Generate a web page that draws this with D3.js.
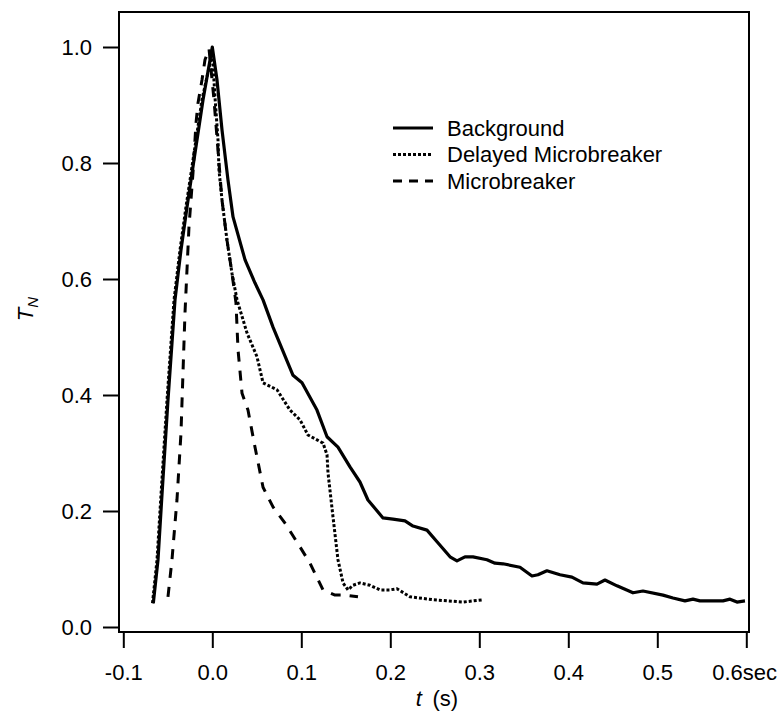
<!DOCTYPE html>
<html>
<head>
<meta charset="utf-8">
<script src="https://cdn.jsdelivr.net/npm/d3@7"></script>
<style>
  body { margin: 0; background: #fff; }
  svg { display: block; }
  text { font-family: "Liberation Sans", Arial, Helvetica, sans-serif; fill: #000; }
</style>
</head>
<body>
<svg id="chart" width="780" height="713"></svg>
<script>
// Background (solid)
var bgT = [-0.0663,-0.0610,-0.0569,-0.0498,-0.0419,-0.0352,-0.0284,-0.0206,-0.0104,0.0,
  0.0053,0.0109,0.0176,0.0233,0.0368,0.0480,0.0570,0.0682,0.0907,0.1008,0.1176,0.1289,0.1412,
  0.1547,0.1659,0.1749,0.1918,0.2030,0.2165,0.2255,0.2412,0.2525,0.2671,0.2749,0.2839,0.2929,
  0.3086,0.3176,0.3266,0.3457,0.3592,0.3659,0.3760,0.3907,0.4041,0.4165,0.4322,0.4412,0.4547,
  0.4727,0.4839,0.5064,0.5176,0.5311,0.5401,0.5479,0.5738,0.5817,0.5895,0.5985];
var bgY = [0.041,0.116,0.219,0.391,0.564,0.650,0.724,0.805,0.909,1.0,
  0.943,0.857,0.771,0.707,0.633,0.593,0.564,0.517,0.434,0.421,0.374,0.328,0.310,
  0.276,0.250,0.219,0.188,0.186,0.183,0.174,0.167,0.147,0.121,0.114,0.121,0.121,
  0.116,0.110,0.109,0.103,0.088,0.090,0.097,0.090,0.086,0.076,0.074,0.081,0.071,
  0.059,0.062,0.055,0.050,0.045,0.048,0.045,0.045,0.048,0.043,0.045];

// Delayed Microbreaker (dotted)
var dmT = [-0.0672,-0.0621,-0.0580,-0.0509,-0.0430,-0.0363,-0.0296,-0.0217,-0.0116,0.0,
  0.0030,0.0064,0.0075,0.0109,0.0165,0.0221,0.0278,0.0390,0.0502,0.0570,0.0727,0.0873,0.0986,
  0.1075,0.1244,0.1289,0.1300,0.1356,0.1412,0.1469,0.1525,0.1581,0.1659,0.1772,0.1884,0.1997,
  0.2075,0.2221,0.2480,0.2817,0.3042];
var dmY = [0.041,0.116,0.219,0.391,0.564,0.650,0.724,0.805,0.909,0.99,
  0.914,0.840,0.788,0.736,0.667,0.610,0.564,0.507,0.466,0.421,0.409,0.374,0.357,
  0.331,0.317,0.297,0.266,0.190,0.116,0.076,0.064,0.072,0.076,0.072,0.064,0.064,
  0.066,0.052,0.047,0.043,0.047];

// Microbreaker (dashed)
var mbT = [-0.0498,-0.0453,-0.0397,-0.0352,-0.0307,-0.0262,-0.0217,-0.0183,-0.0161,-0.0116,-0.0082,-0.0037,
  0.0019,0.0064,0.0109,0.0165,0.0221,0.0266,0.0289,0.0334,0.0401,0.0480,0.0570,0.0682,0.0817,
  0.0986,0.1098,0.1244,0.1379,0.1491,0.1637];
var mbY = [0.052,0.116,0.219,0.334,0.541,0.690,0.783,0.869,0.903,0.943,0.978,0.997,
  0.909,0.822,0.736,0.667,0.610,0.559,0.478,0.403,0.374,0.310,0.241,0.207,0.179,
  0.138,0.110,0.064,0.055,0.055,0.052];

var seriesNames = ["Background", "Delayed Microbreaker", "Microbreaker"];
var seriesDash = ["none", "3,2", "10,9"];
var xTicks = [-0.1, 0.0, 0.1, 0.2, 0.3, 0.4, 0.5, 0.6];
var yTicks = [0.0, 0.2, 0.4, 0.6, 0.8, 1.0];

var svg = d3.select("#chart");
var box = { left: 119, top: 12, right: 749, bottom: 632 };

var x = d3.scaleLinear().domain([-0.1, 0.6]).range([123.3, 746.3]);
var y = d3.scaleLinear().domain([0, 1]).range([627, 47]);

// frame
svg.append("rect")
  .attr("x", box.left).attr("y", box.top)
  .attr("width", box.right - box.left).attr("height", box.bottom - box.top)
  .attr("fill", "none").attr("stroke", "#000").attr("stroke-width", 2);

// axes
var xAxis = d3.axisBottom(x).tickValues(xTicks).tickSize(16).tickPadding(16)
  .tickFormat(function (d) { return d === 0.6 ? "0.6sec" : d.toFixed(1); });
var gx = svg.append("g").attr("transform", "translate(0," + box.bottom + ")").call(xAxis);

var yAxis = d3.axisLeft(y).tickValues(yTicks).tickSize(16).tickPadding(11)
  .tickFormat(function (d) { return d.toFixed(1); });
var gy = svg.append("g").attr("transform", "translate(" + box.left + ",0)").call(yAxis);

[gx, gy].forEach(function (g) {
  g.select(".domain").remove();
  g.selectAll(".tick line").attr("stroke", "#000").attr("stroke-width", 2);
  g.selectAll(".tick text").attr("font-size", 22).attr("font-family", null);
});
gx.selectAll(".tick text").filter(function (d) { return d === 0.6; }).attr("dx", "-0.1em");

// axis titles
var xt = svg.append("text").attr("x", 437).attr("y", 706)
  .attr("text-anchor", "middle").attr("font-size", 22);
xt.append("tspan").attr("font-style", "italic").text("t");
xt.append("tspan").text("\u2009 (s)");

var yt = svg.append("text").attr("transform", "translate(33,309) rotate(-90)")
  .attr("text-anchor", "middle").attr("font-size", 22);
yt.append("tspan").attr("font-style", "italic").text("T");
yt.append("tspan").attr("font-style", "italic").attr("font-size", 15).attr("dy", 5).text("N");

// lines
var line = d3.line()
  .x(function (d) { return x(d[0]); })
  .y(function (d) { return y(d[1]); });

var series = [d3.zip(bgT, bgY), d3.zip(dmT, dmY), d3.zip(mbT, mbY)];
svg.append("g").selectAll("path")
  .data(series)
  .enter().append("path")
  .attr("d", line)
  .attr("fill", "none")
  .attr("stroke", "#000")
  .attr("stroke-width", function (d, i) { return i === 0 ? 3.2 : 3; })
  .attr("stroke-dasharray", function (d, i) { return seriesDash[i]; })
  .attr("stroke-linejoin", "round");

// legend
var legend = svg.append("g").selectAll("g")
  .data(seriesNames)
  .enter().append("g")
  .attr("transform", function (d, i) { return "translate(393," + (128 + i * 26.5) + ")"; });
legend.append("line")
  .attr("x1", 0).attr("x2", 40)
  .attr("stroke", "#000")
  .attr("stroke-width", function (d, i) { return i === 0 ? 3.2 : 3; })
  .attr("stroke-dasharray", function (d, i) { return i === 2 ? "9,7" : seriesDash[i]; });
legend.append("text")
  .attr("x", 54).attr("dy", "0.35em")
  .attr("font-size", 22)
  .text(function (d) { return d; });
</script>
</body>
</html>
